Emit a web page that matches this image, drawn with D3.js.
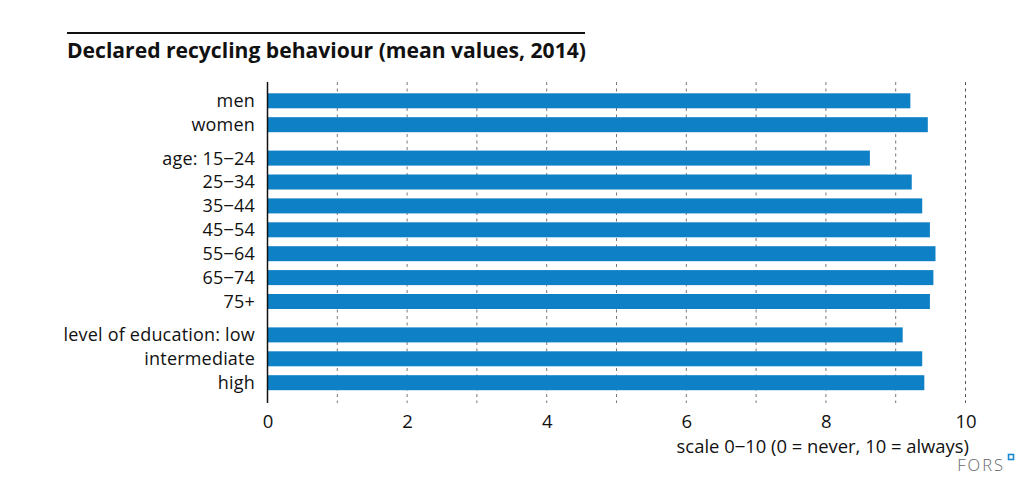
<!DOCTYPE html>
<html>
<head>
<meta charset="utf-8">
<script src="https://cdn.jsdelivr.net/npm/d3@7"></script>
<style>
    body { margin: 0; background: #fff; }
    svg { display: block; font-family: "Open Sans", "Noto Sans", sans-serif; }
</style>
</head>
<body>
<svg id="chart"></svg>
<script>
// data
var groups = [
    ["men", "women"],
    ["age: 15\u201224", "25\u201234", "35\u201244", "45\u201254", "55\u201264", "65\u201274", "75+"],
    ["level of education: low", "intermediate", "high"]
];
var labels = groups.flat();
var values = [9.21, 9.46, 8.63, 9.23, 9.38, 9.49, 9.57, 9.54, 9.49, 9.10, 9.38, 9.41];
var xTicks = [0, 2, 4, 6, 8, 10];
var gridTicks = [1, 2, 3, 4, 5, 6, 7, 8, 9, 10];

var title = "Declared recycling behaviour (mean values, 2014)";
var axisNote = "scale 0\u201210 (0 = never, 10 = always)";

renderChart({
    selector: "#chart",
    width: 1035,
    height: 490,
    left: 267.5,
    right: 965.5,
    top: 82,
    bottom: 403,
    firstBar: 93.3,
    step: 23.9,
    groupGap: 9.5,
    barHeight: 15,
    color: "#0e80c6"
});

function renderChart(options){
    var chart = d3.select(options.selector)
        .attr("width", options.width)
        .attr("height", options.height);

    var xScale = d3.scaleLinear()
        .domain([0, 10])
        .range([options.left, options.right]);

    // slot index per label, with an extra gap between groups
    var slots = [];
    groups.forEach(function(g, gi){
        g.forEach(function(){ slots.push(slots.length + gi * options.groupGap / options.step); });
    });
    var yScale = d3.scaleLinear()
        .domain([0, 1])
        .range([options.firstBar, options.firstBar + options.step]);

    // header rule and title
    chart.append("line")
        .attr("x1", 67).attr("x2", 585)
        .attr("y1", 33).attr("y2", 33)
        .attr("stroke", "#111").attr("stroke-width", 2);
    chart.append("text")
        .attr("x", 67).attr("y", 58)
        .attr("font-size", 21.1)
        .attr("font-weight", "bold")
        .attr("fill", "#111")
        .text(title);

    // dashed gridlines
    chart.append("g")
        .selectAll("line")
        .data(gridTicks)
        .enter()
        .append("line")
        .attr("x1", function(d){ return xScale(d); })
        .attr("x2", function(d){ return xScale(d); })
        .attr("y1", options.top)
        .attr("y2", options.bottom)
        .attr("stroke", function(d){ return d === 10 ? "#555" : "#777"; })
        .attr("stroke-width", 1)
        .attr("stroke-dasharray", "3,3.5");

    // bars
    chart.append("g")
        .selectAll("rect")
        .data(values)
        .enter()
        .append("rect")
        .attr("x", xScale(0))
        .attr("y", function(d, i){ return yScale(slots[i]); })
        .attr("width", function(d){ return xScale(d) - xScale(0); })
        .attr("height", options.barHeight)
        .attr("fill", options.color);

    // category labels
    chart.append("g")
        .selectAll("text")
        .data(labels)
        .enter()
        .append("text")
        .attr("x", 255)
        .attr("y", function(d, i){ return yScale(slots[i]) + options.barHeight / 2; })
        .attr("dy", "0.36em")
        .attr("text-anchor", "end")
        .attr("font-size", 18)
        .attr("letter-spacing", 0.2)
        .attr("fill", "#111")
        .text(function(d){ return d; });

    // vertical axis line
    chart.append("line")
        .attr("x1", xScale(0)).attr("x2", xScale(0))
        .attr("y1", options.top).attr("y2", options.bottom)
        .attr("stroke", "#111").attr("stroke-width", 1.5);

    // x axis labels
    var xAxis = chart.append("g")
        .attr("transform", `translate(0, ${options.bottom + 7})`)
        .call(d3.axisBottom(xScale).tickValues(xTicks).tickSize(0).tickPadding(5));
    xAxis.select(".domain").remove();
    xAxis.selectAll("text")
        .attr("font-size", 18.5)
        .attr("font-family", "\"Open Sans\", sans-serif")
        .attr("fill", "#111");

    chart.append("text")
        .attr("x", 969).attr("y", 453)
        .attr("text-anchor", "end")
        .attr("font-size", 18.4)
        .attr("fill", "#111")
        .text(axisNote);

    // FORS mark
    chart.append("text")
        .attr("x", 1005).attr("y", 471)
        .attr("text-anchor", "end")
        .attr("font-size", 16.5)
        .attr("font-weight", 300)
        .attr("letter-spacing", 2)
        .attr("fill", "#666")
        .text("FORS");
    chart.append("rect")
        .attr("x", 1008.5).attr("y", 454.5)
        .attr("width", 5).attr("height", 5)
        .attr("fill", "#fff")
        .attr("stroke", "#1a8ad0").attr("stroke-width", 1.6);
}
</script>
</body>
</html>
